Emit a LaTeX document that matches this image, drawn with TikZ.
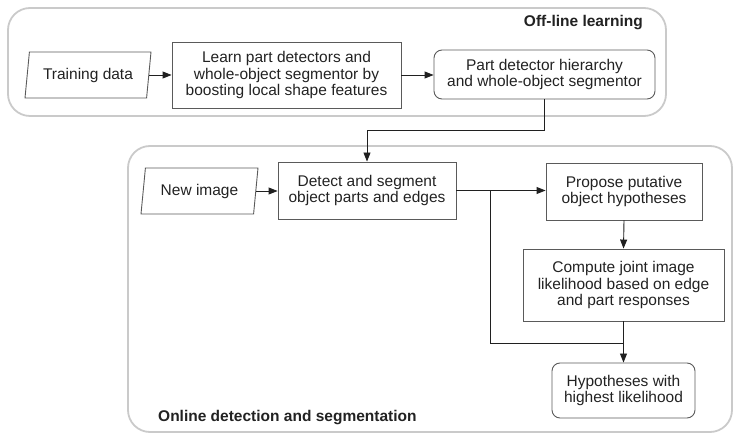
\documentclass[tikz,border=0pt]{standalone}
\usepackage{fontspec}
\setmainfont{Liberation Sans}
\usetikzlibrary{arrows.meta,shapes.geometric}
\definecolor{boxc}{HTML}{5A5A5A}
\definecolor{contc}{HTML}{CACACA}
\definecolor{linec}{HTML}{202020}
\definecolor{txt}{HTML}{222222}
\begin{document}
\begin{tikzpicture}[x=1pt,y=-1pt,
  font=\fontsize{15.5}{16.7}\selectfont,
  box/.style={draw=boxc,line width=0.9pt,inner sep=0pt,align=center,text=txt},
  rbox/.style={box,rounded corners=8pt},
  io/.style={box,trapezium,trapezium left angle=73,trapezium right angle=107,trapezium stretches body},
  cont/.style={draw=contc,line width=1.8pt,rounded corners=22pt,inner sep=0pt},
  conn/.style={draw=linec,line width=0.9pt},
  arr/.style={conn,-{Triangle[length=9pt,width=7pt]}},
  ttl/.style={font=\fontsize{15.5}{16.7}\selectfont\bfseries,text=txt,inner sep=0pt}
]
\useasboundingbox (0,0) rectangle (734,435);
% containers
\node[cont,minimum width=658pt,minimum height=108pt] (offl) at (337,62) {};
\node[cont,minimum width=604pt,minimum height=286pt] (onl) at (430,289) {};
\node[ttl,anchor=east] (offlt) at (643,23) {Off-line learning};
\node[ttl,anchor=west] (onlt) at (158,418) {Online detection and segmentation};
% off-line nodes
\node[io,minimum width=126pt,minimum height=46pt] (train) at (88,75) {Training data};
\node[box,minimum width=229pt,minimum height=66pt] (learn) at (286.5,75) {Learn part detectors and\\whole-object segmentor by\\boosting local shape features};
\node[rbox,minimum width=221pt,minimum height=49pt] (part) at (544.5,74.5) {Part detector hierarchy\\and whole-object segmentor};
% online nodes
\node[io,minimum width=117pt,minimum height=46pt] (newimg) at (199.5,191) {New image};
\node[box,minimum width=178pt,minimum height=57pt] (detect) at (367,190.5) {Detect and segment\\object parts and edges};
\node[box,minimum width=156pt,minimum height=57pt] (propose) at (624,191.5) {Propose putative\\object hypotheses};
\node[box,minimum width=201pt,minimum height=72pt] (compute) at (623.5,285) {Compute joint image\\likelihood based on edge\\and part responses};
\node[rbox,minimum width=143pt,minimum height=55pt] (hyp) at (623.5,390.5) {Hypotheses with\\highest likelihood};
% connectors
\draw[arr] (train.east) -- (train.east -| learn.west);
\draw[arr] (learn.east) -- (learn.east -| part.west);
\coordinate (k) at (544.5,130);
\draw[arr] (part.south) -- (k) -| (detect.north);
\draw[arr] (newimg.east) -- (newimg.east -| detect.west);
\draw[arr] (detect.east) -- (detect.east -| propose.west);
\coordinate (j) at (490,190.5);
\coordinate (m) at (623.5,343);
\draw[conn] (j) |- (m);
\draw[arr] (propose.south) -- (compute.north);
\draw[arr] (compute.south) -- (hyp.north);
\end{tikzpicture}
\end{document}
